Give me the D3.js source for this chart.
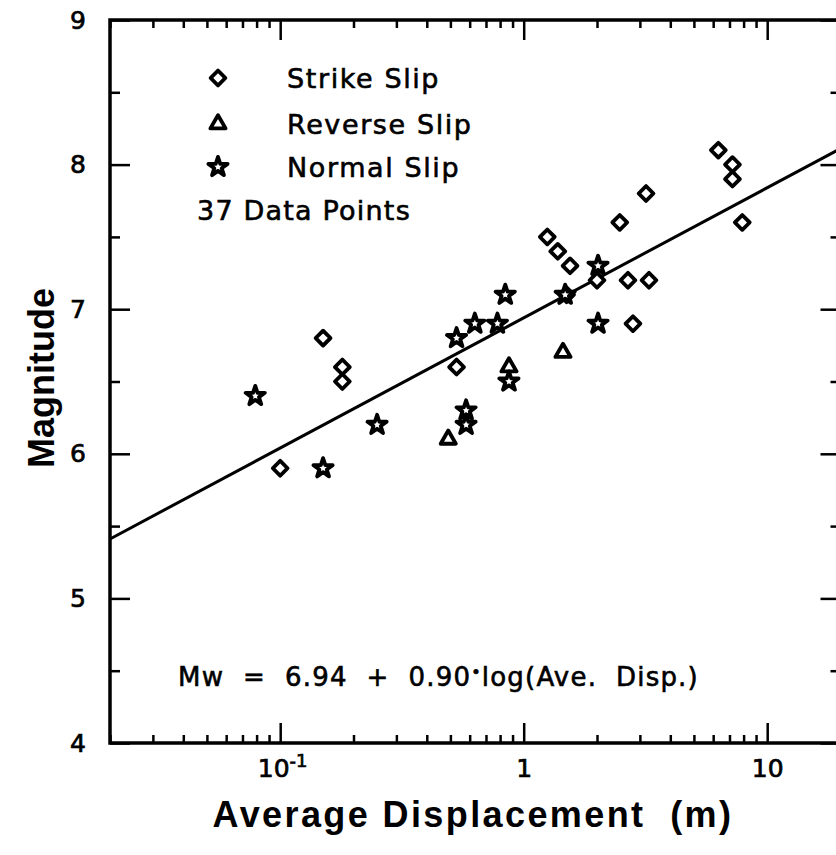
<!DOCTYPE html>
<html>
<head>
<meta charset="utf-8">
<script src="https://cdn.jsdelivr.net/npm/d3@7"></script>
<style>
  body { margin: 0; background: #fff; }
  text { white-space: pre; }
</style>
</head>
<body>
<div id="vis"></div>
<script>
const FRAME_WIDTH = 836;
const FRAME_HEIGHT = 855;
const MARGINS = {left: 110, right: -4.5, top: 20, bottom: 112};

// data (displacement in m, magnitude)
const strike_disp = [0.10, 0.15, 0.18, 0.18, 0.53, 1.25, 1.38, 1.55, 1.50, 2.0, 2.68, 3.27, 2.81, 2.48, 3.18, 6.3, 7.2, 7.2, 7.9];
const strike_mag  = [5.9, 6.8, 6.6, 6.5, 6.6, 7.5, 7.4, 7.3, 7.1, 7.2, 7.2, 7.2, 6.9, 7.6, 7.8, 8.1, 8.0, 7.9, 7.6];

const reverse_disp = [0.49, 0.87, 1.45];
const reverse_mag  = [6.1, 6.6, 6.7];

const normal_disp = [0.079, 0.15, 0.25, 0.53, 0.58, 0.58, 0.63, 0.78, 0.84, 0.87, 1.48, 2.02, 2.02];
const normal_mag  = [6.4, 5.9, 6.2, 6.8, 6.3, 6.2, 6.9, 6.9, 7.1, 6.5, 7.1, 7.3, 6.9];

const legend_labels = ["Strike Slip", "Reverse Slip", "Normal Slip"];

// regression Mw = a + b*log(D)
const INTERCEPT = 6.94;
const SLOPE = 0.90;

const X_DOMAIN = [0.02, 20];
const Y_DOMAIN = [4, 9];
const X_MAJOR = [0.1, 1, 10];
const Y_MAJOR = [4, 5, 6, 7, 8, 9];
const Y_HALF = [4.5, 5.5, 6.5, 7.5, 8.5];

const VIS_WIDTH = FRAME_WIDTH - MARGINS.left - MARGINS.right;
const VIS_HEIGHT = FRAME_HEIGHT - MARGINS.top - MARGINS.bottom;

const FRAME = d3.select("#vis")
  .append("svg")
    .attr("width", FRAME_WIDTH)
    .attr("height", FRAME_HEIGHT)
    .style("font-family", "'DejaVu Sans', sans-serif");

const X_SCALE = d3.scaleLog().domain(X_DOMAIN).range([MARGINS.left, MARGINS.left + VIS_WIDTH]);
const Y_SCALE = d3.scaleLinear().domain(Y_DOMAIN).range([MARGINS.top + VIS_HEIGHT, MARGINS.top]);

const x_minor = X_SCALE.ticks().filter(d => X_MAJOR.indexOf(d) < 0);

// plotter-ish heavier text
function inked(sel, w) {
  return sel.attr("fill", "#000").attr("stroke", "#000").attr("stroke-width", w);
}

// frame
FRAME.append("rect")
  .attr("x", MARGINS.left)
  .attr("y", MARGINS.top)
  .attr("width", VIS_WIDTH)
  .attr("height", VIS_HEIGHT)
  .attr("fill", "none")
  .attr("stroke", "#000")
  .attr("stroke-width", 3.5);

function styleAxis(g) {
  g.select(".domain").remove();
  g.selectAll(".tick line").attr("stroke", "#000").attr("stroke-width", 2.5);
}

// bottom axis
FRAME.append("g")
  .attr("transform", "translate(0," + (MARGINS.top + VIS_HEIGHT) + ")")
  .call(d3.axisBottom(X_SCALE).tickValues(x_minor).tickSize(-8).tickFormat(""))
  .call(styleAxis);

const xMajor = FRAME.append("g")
  .attr("transform", "translate(0," + (MARGINS.top + VIS_HEIGHT) + ")")
  .call(d3.axisBottom(X_SCALE).tickValues(X_MAJOR).tickSize(-20).tickPadding(16)
        .tickFormat(d => d < 1 ? "10" : d3.format("d")(d)))
  .call(styleAxis);

xMajor.selectAll("text")
  .attr("font-size", 25)
  .attr("font-family", "'DejaVu Sans', sans-serif")
  .call(inked, 0.7)
  .each(function(d) {
    if (d < 1) {
      d3.select(this).attr("dx", 2)
        .append("tspan").attr("dy", -10).attr("font-size", 18).text("-1");
    }
  });

// top axis
FRAME.append("g")
  .attr("transform", "translate(0," + MARGINS.top + ")")
  .call(d3.axisTop(X_SCALE).tickValues(x_minor).tickSize(-8).tickFormat(""))
  .call(styleAxis);

FRAME.append("g")
  .attr("transform", "translate(0," + MARGINS.top + ")")
  .call(d3.axisTop(X_SCALE).tickValues(X_MAJOR).tickSize(-20).tickFormat(""))
  .call(styleAxis);

// left axis
const yMajor = FRAME.append("g")
  .attr("transform", "translate(" + MARGINS.left + ",0)")
  .call(d3.axisLeft(Y_SCALE).tickValues(Y_MAJOR).tickSize(-20).tickPadding(24).tickFormat(d3.format("d")))
  .call(styleAxis);

yMajor.selectAll("text")
  .attr("font-size", 25)
  .attr("font-family", "'DejaVu Sans', sans-serif")
  .call(inked, 0.7);

FRAME.append("g")
  .attr("transform", "translate(" + MARGINS.left + ",0)")
  .call(d3.axisLeft(Y_SCALE).tickValues(Y_HALF).tickSize(-10).tickFormat(""))
  .call(styleAxis);

// right axis
FRAME.append("g")
  .attr("transform", "translate(" + (MARGINS.left + VIS_WIDTH) + ",0)")
  .call(d3.axisRight(Y_SCALE).tickValues(Y_MAJOR).tickSize(-20).tickFormat(""))
  .call(styleAxis);

FRAME.append("g")
  .attr("transform", "translate(" + (MARGINS.left + VIS_WIDTH) + ",0)")
  .call(d3.axisRight(Y_SCALE).tickValues(Y_HALF).tickSize(-10).tickFormat(""))
  .call(styleAxis);

// regression line
const fit = d3.line()
  .x(d => X_SCALE(d))
  .y(d => Y_SCALE(INTERCEPT + SLOPE * Math.log10(d)));

FRAME.append("path")
  .datum(X_DOMAIN)
  .attr("d", fit)
  .attr("fill", "none")
  .attr("stroke", "#000")
  .attr("stroke-width", 3);

// symbols
const diamond = d3.symbol().type(d3.symbolSquare).size(110)();
const triangle = d3.symbol().type(d3.symbolTriangle).size(100)();
const star = d3.symbol().type(d3.symbolStar).size(115)();

function plotSymbols(disp, mag, path, rotate) {
  FRAME.append("g").selectAll("path")
    .data(disp.map((d, i) => [d, mag[i]]))
    .enter()
    .append("path")
      .attr("d", path)
      .attr("transform", d => "translate(" + X_SCALE(d[0]) + "," + Y_SCALE(d[1]) + ") rotate(" + rotate + ")")
      .attr("fill", "#fff")
      .attr("stroke", "#000")
      .attr("stroke-width", 3.8)
      .attr("stroke-linejoin", "round");
}

plotSymbols(strike_disp, strike_mag, diamond, 45);
plotSymbols(reverse_disp, reverse_mag, triangle, 0);
plotSymbols(normal_disp, normal_mag, star, 0);

// legend
const legend_paths = [[diamond, 45], [triangle, 0], [star, 0]];
const legend_y = [78, 124, 167];

legend_labels.forEach((lab, i) => {
  FRAME.append("path")
    .attr("d", legend_paths[i][0])
    .attr("transform", "translate(218," + legend_y[i] + ") rotate(" + legend_paths[i][1] + ")")
    .attr("fill", "#fff")
    .attr("stroke", "#000")
    .attr("stroke-width", 3.8)
    .attr("stroke-linejoin", "round");
  FRAME.append("text")
    .attr("x", 287)
    .attr("y", legend_y[i] + 10)
    .attr("font-size", 27)
    .attr("letter-spacing", 1.6)
    .call(inked, 0.6)
    .text(lab);
});

FRAME.append("text")
  .attr("x", 197)
  .attr("y", 220)
  .attr("font-size", 27)
  .attr("letter-spacing", 1.2)
  .call(inked, 0.6)
  .text("37 Data Points");

// equation
const eq = FRAME.append("text")
  .attr("x", 178)
  .attr("y", 686)
  .attr("font-size", 26)
  .attr("letter-spacing", 1.2)
  .call(inked, 0.6);
eq.append("tspan").text("Mw  =  6.94  +  0.90");
eq.append("tspan").attr("dy", -8).attr("font-size", 16).text("•");
eq.append("tspan").attr("dy", 8).text("log(Ave.  Disp.)");

// axis titles
FRAME.append("text")
  .attr("x", 473)
  .attr("y", 827)
  .attr("text-anchor", "middle")
  .attr("font-family", "'Liberation Sans', Arial, sans-serif")
  .attr("font-weight", "bold")
  .attr("font-size", 36)
  .attr("letter-spacing", 2.4)
  .text("Average Displacement  (m)");

FRAME.append("text")
  .attr("transform", "translate(54,378) rotate(-90)")
  .attr("text-anchor", "middle")
  .attr("font-family", "'Liberation Sans', Arial, sans-serif")
  .attr("font-weight", "bold")
  .attr("font-size", 36)
  .text("Magnitude");
</script>
</body>
</html>
